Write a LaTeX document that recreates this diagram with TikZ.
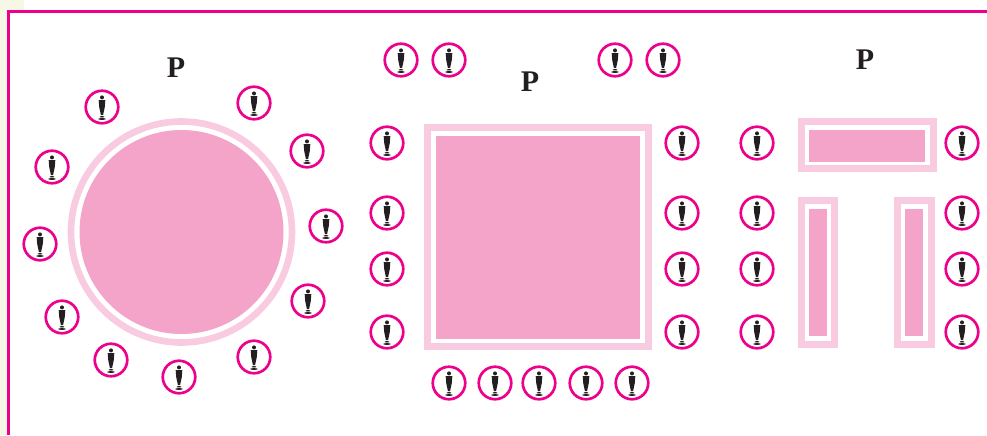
\documentclass[tikz,border=0pt]{standalone}
\usepackage{fontspec}
\setmainfont{Liberation Serif}
\usepackage{xcolor}
\usetikzlibrary{calc}
\definecolor{rimcol}{HTML}{EC008C}
\definecolor{ringcol}{HTML}{F9CBE0}
\definecolor{topcol}{HTML}{F5A4C9}
\definecolor{paper}{HTML}{F7F7E6}
\definecolor{figcol}{HTML}{231F20}

\begin{document}
\begin{tikzpicture}[
      x=0.75pt, y=-0.75pt,
      seat/.style={draw=rimcol, circle, line width=2pt, fill=white, minimum size=24.4pt, inner sep=0pt},
      ring/.style={draw=ringcol, line width=5pt, fill=white},
      top/.style={fill=topcol},
      tag/.style={font=\bfseries\fontsize{22.5}{24}\selectfont, text=figcol, inner sep=0pt},
      guest/.pic={
        \node[seat] (-c) at (0,0) {};
        \fill[figcol] (0,-9.6) circle (2);
        \fill[figcol] (-3.3,-6.8) -- (3.3,-6.8) -- (2.8,0) -- (1.1,8) -- (-1.1,8) -- (-2.8,0) -- cycle;
        \fill[figcol] (0,9.8) ellipse (2.4 and 0.7);
        \fill[figcol] (0,12) ellipse (3.8 and 0.9);
      }]
    \useasboundingbox (0,0) rectangle (987,435);
    \fill[paper] (0,0) rectangle (8,435);
    \fill[paper] (0,0) rectangle (24,11);
    % frame
    \draw[rimcol, line width=1.9pt] (987,11.5) -| (8.5,435);
    % round table
    \draw[ring] (181.5,232) circle (110.5);
    \fill[top] (181.5,232) circle (102);
    % square table
    \draw[ring] (427.3,127.3) rectangle (648.7,346.7);
    \fill[top] (436,136) rectangle (640,339);
    % three part table
    \foreach \xa/\ya/\xb/\yb in {798/118/937/172, 798/197/838/348, 894/197/935/348}
      \draw[ring] (\xa+3.3,\ya+3.3) rectangle (\xb-3.3,\yb-3.3);
    \foreach \xa/\ya/\xb/\yb in {809/130/925/161.5, 809/209/827/336, 905/209/923/336}
      \fill[top] (\xa,\ya) rectangle (\xb,\yb);
    % labels
    \node[tag] (tagone) at (176,68) {P};
    \node[tag] (tagtwo) at (530,82) {P};
    \node[tag] (tagthree) at (865,60) {P};
    % seats round the circle
    \foreach \sx/\sy [count=\i] in {102/107, 254/103, 307/151, 326/226, 308/301, 254/357, 179/377, 111/360, 62/317, 40/244, 52/167}
      \pic (round\i) at (\sx,\sy) {guest};
    % seats round the square
    \foreach \sx/\sy [count=\i] in {401/60, 449/60, 615/60, 663/60, 449/383, 495/383, 539/383, 586/383, 632/383}
      \pic (square\i) at (\sx,\sy) {guest};
    % side columns
    \foreach \sx/\name in {387/sqleft, 682/sqright, 757/uleft, 962/uright}
      \foreach \sy [count=\i] in {143, 213, 269, 332}
        \pic (\name\i) at (\sx,\sy) {guest};
  \end{tikzpicture}
\end{document}
